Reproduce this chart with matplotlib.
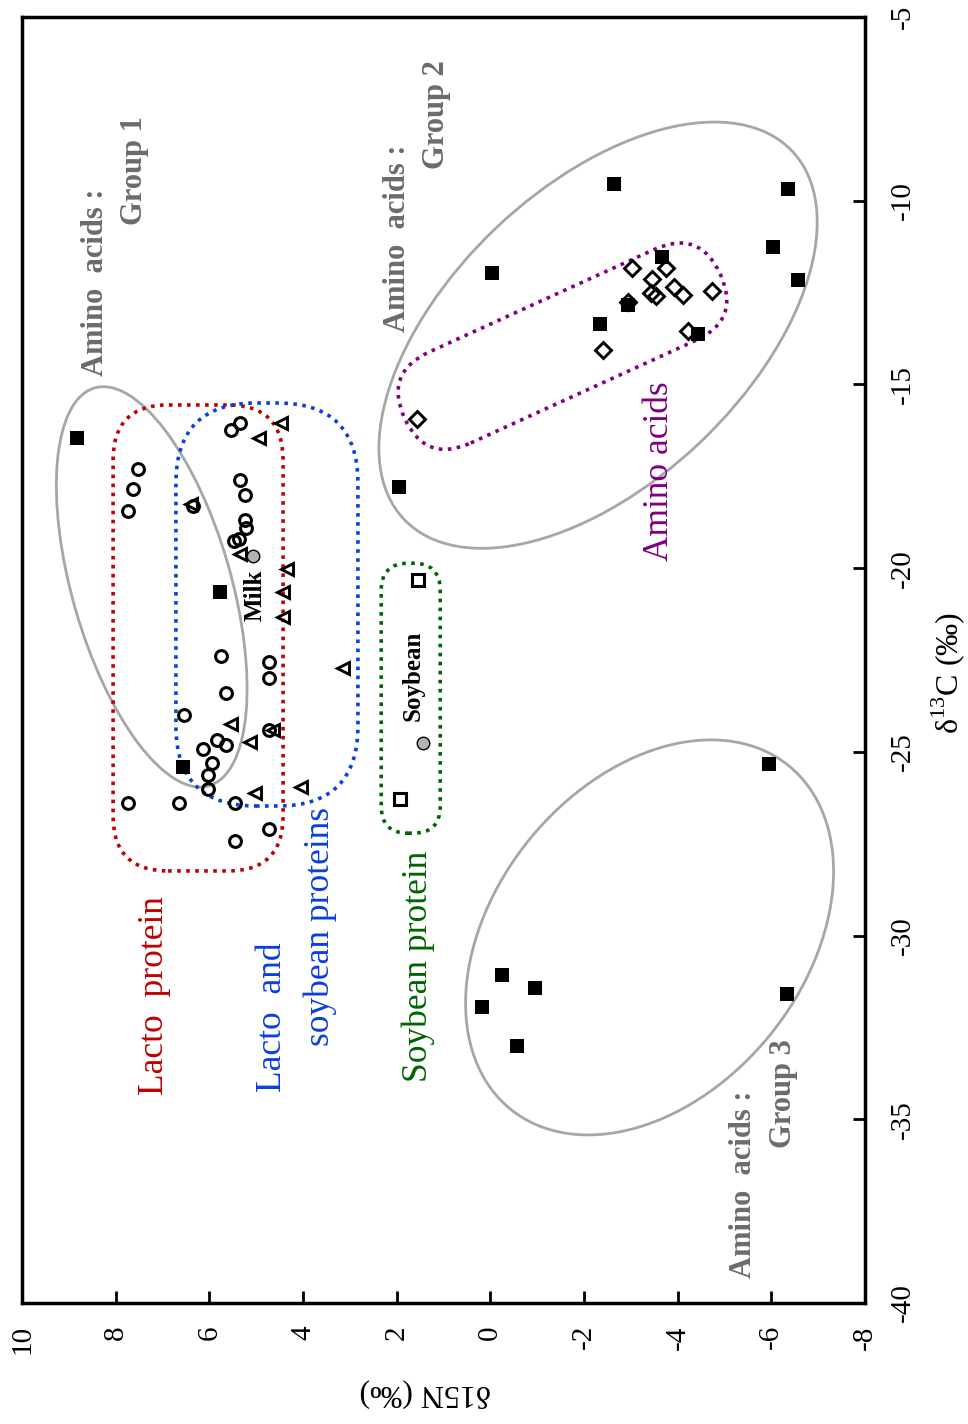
import matplotlib
matplotlib.use("Agg")
import matplotlib.pyplot as plt
from matplotlib.patches import Ellipse, FancyBboxPatch
from matplotlib.transforms import Affine2D, ScaledTranslation

plt.rcParams["font.family"] = ["Liberation Serif", "DejaVu Serif"]
plt.rcParams["mathtext.fontset"] = "custom"
plt.rcParams["mathtext.rm"] = "Liberation Serif"
plt.rcParams["axes.unicode_minus"] = False

# data: x = d15N, y = d13C (chart is drawn rotated)
amino_n = [8.83, 5.77, 6.56,
           -2.63, -6.35, -6.04, -6.56, -3.66, -0.04, -2.93, -2.34, -4.44, 1.94,
           -5.94, -6.34, -0.24, -0.96, 0.17, -0.56]
amino_c = [-16.47, -20.64, -25.42,
           -9.55, -9.69, -11.25, -12.16, -11.54, -11.98, -12.84, -13.36, -13.63, -17.78,
           -25.34, -31.60, -31.06, -31.44, -31.94, -33.01]

aa_open_n = [-3.03, -3.75, -3.45, -3.92, -4.12, -4.74, -3.43, -3.54, -2.95, -4.23, -2.41, 1.57]
aa_open_c = [-11.84, -11.84, -12.14, -12.36, -12.57, -12.46, -12.52, -12.59, -12.75, -13.55, -14.06, -15.95]

lacto_n = [5.34, 5.54, 7.52, 7.62, 7.73, 6.34, 5.34, 5.24, 5.24, 5.22, 5.47, 5.36,
           5.76, 4.72, 4.72, 5.64, 6.54, 4.72, 5.84, 5.65, 6.13, 5.94, 6.02, 6.02,
           7.73, 6.64, 5.45, 4.72, 5.45]
lacto_c = [-16.04, -16.24, -17.31, -17.84, -18.45, -18.31, -17.61, -18.01, -18.69, -18.90, -19.25, -19.20,
           -22.39, -22.55, -23.00, -23.41, -24.00, -24.41, -24.68, -24.82, -24.93, -25.31, -25.63, -26.02,
           -26.40, -26.40, -26.40, -27.11, -27.42]

mix_n = [4.46, 4.93, 6.40, 5.34, 4.35, 4.43, 4.43, 3.15, 4.63, 5.54, 5.13, 5.02, 4.04]
mix_c = [-16.06, -16.47, -18.26, -19.62, -20.03, -20.64, -21.34, -22.73, -24.41, -24.25, -24.72, -26.13, -25.95]

soy_n = [1.54, 1.93]
soy_c = [-20.32, -26.29]

ref_n = [5.07, 1.43]
ref_c = [-19.66, -24.75]
ref_labels = ["Milk", "Soybean"]

fig = plt.figure(figsize=(9.68, 14.24), dpi=100)
ax = fig.add_axes([22 / 968, 121 / 1424, 843 / 968, 1286 / 1424])
ax.set_xlim(10, -8)
ax.set_ylim(-40, -5)
ax.set_xticks(range(10, -9, -2))
ax.set_yticks(range(-40, -4, 5))
ax.yaxis.tick_right()
ax.tick_params(direction="in", length=9, width=2, labelsize=21)
ax.tick_params(axis="x", labelrotation=90, pad=16)
ax.tick_params(axis="y", labelrotation=90, pad=18)
for lab in ax.get_yticklabels():
    lab.set_verticalalignment("center")
for sp in ax.spines.values():
    sp.set_linewidth(2.5)

ax.set_xlabel("δ15N (‰)", fontsize=23, rotation=180, va="center", ha="center")
ax.xaxis.set_label_coords(0.478, -0.070)
ax.yaxis.set_label_position("right")
ax.set_ylabel("δ$^{13}$C (‰)", fontsize=23, rotation=90, va="center", ha="center")
ax.yaxis.set_label_coords(1.098, 0.49)


def at(n, c):
    return fig.dpi_scale_trans + ScaledTranslation(n, c, ax.transData)


# grey ellipses around amino acid groups (sizes in pixels)
for cn, cc, w, h, ang in [(7.23, -20.51, 414, 159, -74),
                          (-2.30, -13.66, 535, 296, 43.5),
                          (-3.40, -30.05, 442, 310, 51)]:
    ax.add_patch(Ellipse((0, 0), w / 100, h / 100, angle=ang, transform=at(cn, cc),
                         fill=False, ec="#a6a6a6", lw=2, zorder=1))

# dotted rounded boxes
for cn, cc, w, h, r, ang, col in [(6.24, -21.90, 170, 466, 55, 0, "#c00000"),
                                  (4.77, -20.99, 182, 403, 80, 0, "#0a3ee0"),
                                  (1.70, -23.54, 59, 270, 27, 0, "#006400"),
                                  (-1.54, -13.96, 347, 100, 50, 24.5, "#800080")]:
    box = FancyBboxPatch((-w / 200, -h / 200), w / 100, h / 100,
                         boxstyle=f"round,pad=0,rounding_size={r / 100}",
                         transform=Affine2D().rotate_deg(ang) + at(cn, cc),
                         fill=False, ec=col, lw=2.6, ls=(0, (1, 1.5)), zorder=1)
    ax.add_patch(box)

mk = dict(ls="none", mec="black", zorder=3)
ax.plot(lacto_n, lacto_c, marker="o", ms=8.5, mfc="none", mew=2.2, **mk)
ax.plot(mix_n, mix_c, marker="<", ms=8, mfc="none", mew=2.1, **mk)
ax.plot(aa_open_n, aa_open_c, marker="D", ms=8, mfc="none", mew=2.1, **mk)
ax.plot(soy_n, soy_c, marker="s", ms=8, mfc="none", mew=2.2, **mk)
ax.plot(amino_n, amino_c, marker="s", ms=9.5, mfc="black", mew=0, **mk)
ax.plot(ref_n, ref_c, marker="o", ms=9, mfc="#b3b3b3", mew=1, **mk)

ax.text(5.02, -20.73, ref_labels[0], rotation=90, ha="center", va="center",
        fontsize=18, fontweight="bold")
ax.text(1.65, -22.94, ref_labels[1], rotation=90, ha="center", va="center",
        fontsize=18, fontweight="bold")

grey = "#6b6b6b"
for n, c, s in [(8.44, -12.21, "Amino  acids :"), (7.59, -9.19, "Group 1"),
                (1.99, -11.02, "Amino  acids :"), (1.16, -7.67, "Group 2"),
                (-5.40, -36.76, "Amino  acids :"), (-6.27, -34.29, "Group 3")]:
    ax.text(n, c, s, rotation=90, ha="center", va="center", fontsize=22,
            fontweight="bold", color=grey)

for n, c, s, col in [(7.18, -31.62, "Lacto  protein", "#c00000"),
                     (4.66, -32.22, "Lacto  and", "#0a3ee0"),
                     (3.64, -29.74, "soybean proteins", "#0a3ee0"),
                     (1.54, -30.83, "Soybean protein", "#006400"),
                     (-3.62, -17.36, "Amino acids", "#800080")]:
    ax.text(n, c, s, rotation=90, ha="center", va="center", fontsize=25.5, color=col)

fig.savefig("out.png", dpi=100)
